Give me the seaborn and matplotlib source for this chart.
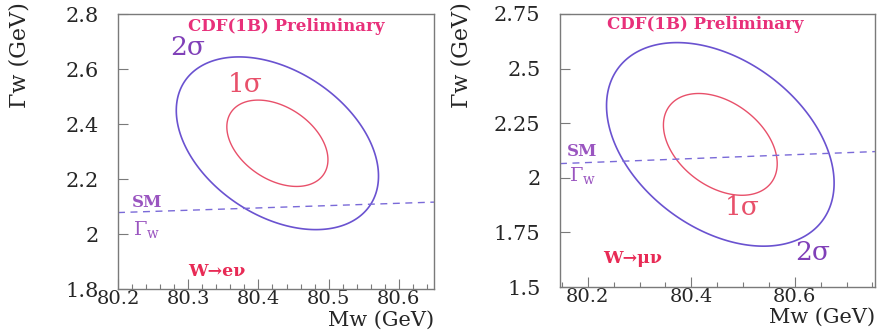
import numpy as np
import pandas as pd
import matplotlib
matplotlib.use("Agg")
import matplotlib.pyplot as plt
from matplotlib.ticker import MultipleLocator, FormatStrFormatter
import seaborn as sns

# Fit results per decay channel: centre, widths and correlation of (Mw, Gamma_w)
channels = ["W\u2192e\u03bd", "W\u2192\u03bc\u03bd"]
mw_center = [80.427, 80.456]
gw_center = [2.330, 2.153]
mw_sigma = [0.072, 0.110]
gw_sigma = [0.157, 0.233]
rho = [-0.38, -0.38]

# Standard Model width as a function of mass (dashed line)
sm_mw = [[80.20, 80.65], [80.146, 80.755]]
sm_gw = [[2.078, 2.116], [2.065, 2.120]]

# Axis ranges and ticks
xlims = [(80.2, 80.65), (80.146, 80.755)]
ylims = [(1.8, 2.8), (1.5, 2.75)]
xmajor = [0.1, 0.2]
xminor = [0.02, 0.05]
ymajor = [0.2, 0.25]

sns.set_style("ticks")
plt.rcParams["font.family"] = ["DejaVu Serif"]
plt.rcParams["mathtext.fontset"] = "dejavuserif"

C1 = "#e8506a"
C2 = "#6a52d0"
CTXT = "#e8307a"
CSM = "#9a55c0"
FRAME = "#7a7a7a"

fig = plt.figure(figsize=(8.9, 3.3), dpi=100)
axes = [fig.add_axes([0.1326, 0.1242, 0.355, 0.8333]),
        fig.add_axes([0.6292, 0.1303, 0.3539, 0.8273])]

# label positions in axes fraction
lab = [
    dict(cdf=(0.532, 0.956), s2=(0.222, 0.88), s1=(0.402, 0.742),
         sm=(0.092, 0.316), gw=(0.092, 0.215), ch=(0.313, 0.065)),
    dict(cdf=(0.46, 0.96), s2=(0.803, 0.128), s1=(0.578, 0.293),
         sm=(0.07, 0.495), gw=(0.073, 0.41), ch=(0.232, 0.106)),
]

for i, ax in enumerate(axes):
    ax.set_xlim(*xlims[i])
    ax.set_ylim(*ylims[i])

    # chi-square surface of the 2D Gaussian fit, contoured at 1 and 2 sigma
    gx = np.linspace(xlims[i][0], xlims[i][1], 500)
    gy = np.linspace(ylims[i][0], ylims[i][1], 500)
    X, Y = np.meshgrid(gx, gy)
    u = (X - mw_center[i]) / mw_sigma[i]
    v = (Y - gw_center[i]) / gw_sigma[i]
    r = rho[i]
    chi2 = (u * u - 2 * r * u * v + v * v) / (1 - r * r)
    ax.contour(X, Y, chi2, levels=[1.0], colors=[C1], linewidths=1.0)
    ax.contour(X, Y, chi2, levels=[4.0], colors=[C2], linewidths=1.2)

    sm = pd.DataFrame({"Mw": sm_mw[i], "Gw": sm_gw[i]})
    sns.lineplot(data=sm, x="Mw", y="Gw", ax=ax, color="#7a6ad8",
                 linestyle=(0, (5, 4)), linewidth=1.0, clip_on=False)

    p = lab[i]
    ax.text(*p["cdf"], "CDF(1B) Preliminary", transform=ax.transAxes,
            ha="center", va="center", color=CTXT, fontsize=12,
            fontweight="bold")
    ax.text(*p["s2"], "2\u03c3", transform=ax.transAxes, ha="center",
            va="center", color="#8040b8", fontsize=19)
    ax.text(*p["s1"], "1\u03c3", transform=ax.transAxes, ha="center",
            va="center", color=C1, fontsize=19)
    ax.text(*p["sm"], "SM", transform=ax.transAxes, ha="center",
            va="center", color=CSM, fontsize=12, fontweight="bold")
    ax.text(*p["gw"], r"$\Gamma_{\rm w}$", transform=ax.transAxes,
            ha="center", va="center", color=CSM, fontsize=14)
    ax.text(*p["ch"], channels[i], transform=ax.transAxes, ha="center",
            va="center", color="#e82a55", fontsize=12.5, fontweight="bold")

    ax.xaxis.set_major_locator(MultipleLocator(xmajor[i]))
    ax.xaxis.set_minor_locator(MultipleLocator(xminor[i]))
    ax.yaxis.set_major_locator(MultipleLocator(ymajor[i]))
    ax.xaxis.set_major_formatter(FormatStrFormatter("%g"))
    ax.yaxis.set_major_formatter(FormatStrFormatter("%g"))
    ax.tick_params(axis="x", which="major", direction="in", length=7,
                   width=0.8, color=FRAME, labelsize=14, pad=1)
    ax.tick_params(axis="x", which="minor", direction="in", length=3.5,
                   width=0.8, color=FRAME)
    ax.tick_params(axis="y", which="major", direction="in", length=7,
                   width=0.8, color=FRAME, labelsize=15, pad=14)
    for s in ax.spines.values():
        s.set_visible(True)
        s.set_color(FRAME)
        s.set_linewidth(1.0)

    ax.set_xlabel("Mw (GeV)", fontsize=15, ha="right", va="bottom")
    ax.xaxis.set_label_coords(1.0, -0.147)
    ax.set_ylabel("\u0393w (GeV)", fontsize=16)
    ax.yaxis.set_label_coords(-0.278, 0.85)

fig.savefig("out.png", dpi=100, facecolor="white")
